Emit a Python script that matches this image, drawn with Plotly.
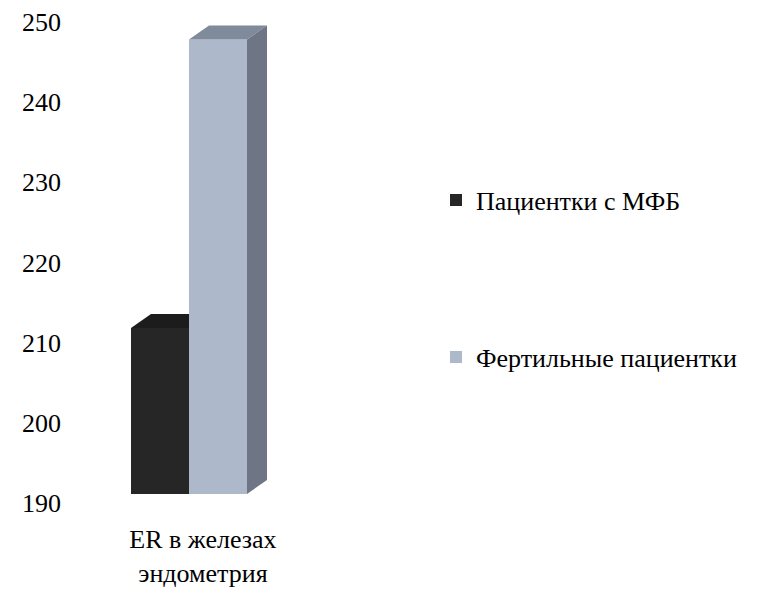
import plotly.graph_objects as go

# ---- data ----
category = "ER в железах<br>эндометрия"
series_names = ["Пациентки с МФБ", "Фертильные пациентки"]
series_values = [210.7, 246.7]
y_ticks = [190, 200, 210, 220, 230, 240, 250]

# ---- style ----
front_colors = ["#262626", "#adb9ca"]
top_colors = ["#1c1c1c", "#7f8a9a"]
side_colors = ["#141414", "#6e7686"]
FONT = "Liberation Serif, Times New Roman, serif"
FS = 26

W, H = 769, 591
ML, MR, MT, MB = 60, 349, 10, 76
plot_w = W - ML - MR
plot_h = H - MT - MB

PX_X = 116.0
x0 = -(189 - ML) / PX_X
x_range = [x0, x0 + plot_w / PX_X]
BAR_W = 0.5
DEPTH_X = 20 / PX_X

PX_Y = (503 - 22) / 60.0
y_vis = [190 - (MT + plot_h - 503) / PX_Y, 0]
y_vis[1] = y_vis[0] + plot_h / PX_Y
y_bar = [190 - (MT + plot_h - 494) / PX_Y, 0]
y_bar[1] = y_bar[0] + plot_h / PX_Y
DEPTH_Y = 14 / PX_Y
BASE = 190

fig = go.Figure()

fig.add_trace(go.Scatter(x=[x_range[0]], y=[y_vis[0]], mode="markers",
                         marker=dict(opacity=0), showlegend=False,
                         hoverinfo="skip", yaxis="y"))

for i, (name, val) in enumerate(zip(series_names, series_values)):
    xc = (i - 0.5) * BAR_W
    xl, xr = xc - BAR_W / 2, xc + BAR_W / 2
    ya = "y%d" % (i + 2)
    fig.add_trace(go.Bar(
        x=[xc], y=[val - BASE], base=[BASE], width=[BAR_W],
        marker=dict(color=front_colors[i], line=dict(width=0)),
        name=name, yaxis=ya, legend="legend" if i == 0 else "legend2",
        showlegend=True,
    ))
    fig.add_trace(go.Scatter(
        x=[xl, xl + DEPTH_X, xr + DEPTH_X, xr, xl],
        y=[val, val + DEPTH_Y, val + DEPTH_Y, val, val],
        fill="toself", fillcolor=top_colors[i], mode="lines",
        line=dict(width=0, color=top_colors[i]), yaxis=ya,
        showlegend=False, hoverinfo="skip",
    ))
    fig.add_trace(go.Scatter(
        x=[xr, xr + DEPTH_X, xr + DEPTH_X, xr, xr],
        y=[BASE, BASE + DEPTH_Y, val + DEPTH_Y, val, BASE],
        fill="toself", fillcolor=side_colors[i], mode="lines",
        line=dict(width=0, color=side_colors[i]), yaxis=ya,
        showlegend=False, hoverinfo="skip",
    ))

fig.update_layout(
    width=W, height=H,
    margin=dict(l=ML, r=MR, t=MT, b=MB),
    paper_bgcolor="white", plot_bgcolor="white",
    font=dict(family=FONT, size=FS, color="black"),
    barmode="overlay",
    xaxis=dict(range=x_range, showgrid=False, zeroline=False, showline=False,
               tickvals=[0.12], ticktext=[category], ticks="",
               ticklabelstandoff=6, automargin=False,
               tickfont=dict(family=FONT, size=FS, color="black")),
    yaxis=dict(range=y_vis, tickvals=y_ticks, showgrid=False, zeroline=False,
               showline=False, ticks="", ticklabelstandoff=-2, automargin=False,
               tickfont=dict(family=FONT, size=FS, color="black")),
    yaxis2=dict(range=y_bar, overlaying="y", visible=False),
    yaxis3=dict(range=y_bar, overlaying="y", visible=False),
    legend=dict(x=(436 - ML) / plot_w, y=1 - (200 - MT) / plot_h,
                xanchor="left", yanchor="middle",
                font=dict(family=FONT, size=FS, color="black"), itemwidth=30,
                bgcolor="rgba(0,0,0,0)"),
    legend2=dict(x=(436 - ML) / plot_w, y=1 - (357 - MT) / plot_h,
                 xanchor="left", yanchor="middle",
                 font=dict(family=FONT, size=FS, color="black"), itemwidth=30,
                 bgcolor="rgba(0,0,0,0)"),
)

fig.write_html("out.html")
